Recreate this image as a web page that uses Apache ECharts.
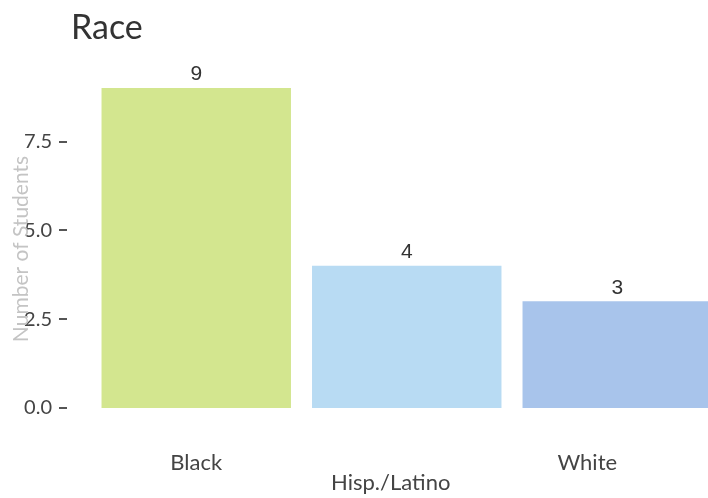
<!DOCTYPE html>
<html>
<head>
<meta charset="utf-8">
<script src="https://cdn.jsdelivr.net/npm/echarts@6/dist/echarts.min.js"></script>
<style>
html,body{margin:0;padding:0;background:#fff;}
#chart{width:708px;height:498px;}
</style>
</head>
<body>
<div id="chart"></div>
<script>
const categories = ['Black', 'Hisp./Latino', 'White'];
const students = [9, 4, 3];
const yTicks = [0, 2.5, 5, 7.5];

const barColors = ['#d3e68f', '#b8dbf3', '#a8c4eb'];
const labelStyles = ['a', 'b', 'c'];

const chart = echarts.init(document.getElementById('chart'), null, {renderer: 'canvas'});
const option = {
  backgroundColor: '#ffffff',
  animation: false,
  title: {
    text: 'Race',
    left: 66,
    top: 6,
    textStyle: {fontFamily: 'Lato', fontSize: 34, fontWeight: 'normal', color: '#333333'}
  },
  grid: {left: 91, width: 631.5, top: 88, bottom: 90, containLabel: false, outerBoundsMode: 'none'},
  xAxis: {
    type: 'category',
    data: categories,
    axisLine: {show: false},
    axisTick: {show: false},
    axisLabel: {
      margin: 43,
      interval: 0,
      formatter: function (v, i) { return '{' + labelStyles[i] + '|' + v + '}'; },
      rich: {
        a: {fontFamily: 'Lato', fontSize: 22, color: '#444444', lineHeight: 24},
        b: {fontFamily: 'Lato', fontSize: 22, color: '#444444', lineHeight: 24, padding: [40, 32, 0, 0]},
        c: {fontFamily: 'Lato', fontSize: 22, color: '#444444', lineHeight: 24, padding: [0, 60, 0, 0]}
      }
    }
  },
  yAxis: {
    type: 'value',
    min: 0,
    max: 9,
    offset: 24,
    axisLine: {show: false},
    splitLine: {show: false},
    axisTick: {show: true, length: 8, customValues: yTicks, lineStyle: {color: '#555555', width: 2}},
    axisLabel: {
      customValues: yTicks,
      margin: 15,
      fontFamily: 'Lato',
      fontSize: 20,
      color: '#444444',
      formatter: function (v) { return v.toFixed(1); }
    }
  },
  graphic: [{
    type: 'text',
    x: 21,
    y: 249,
    rotation: Math.PI / 2,
    style: {
      text: 'Number of Students',
      fontFamily: 'Lato',
      fontSize: 21,
      fill: '#c4c4c4',
      align: 'center',
      verticalAlign: 'middle'
    },
    z: 10
  }],
  series: [{
    type: 'bar',
    barCategoryGap: '10%',
    data: students.map(function (v, i) { return {value: v, itemStyle: {color: barColors[i]}}; }),
    label: {
      show: true,
      position: 'top',
      distance: 3,
      fontFamily: 'Liberation Sans',
      fontSize: 21,
      color: '#333333'
    }
  }]
};
chart.setOption(option);
</script>
</body>
</html>
